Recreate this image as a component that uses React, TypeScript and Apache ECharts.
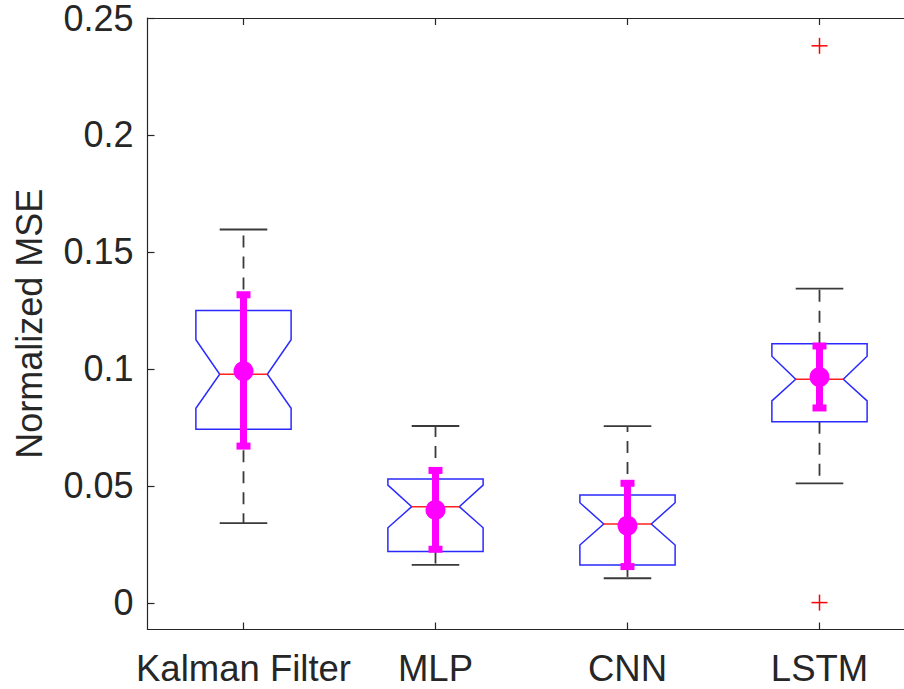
import React, { useEffect, useRef } from "react";
import * as echarts from "echarts";

const categories = ["Kalman Filter", "MLP", "CNN", "LSTM"];
const lowerWhisker = [0.0341, 0.0162, 0.0105, 0.0511];
const q1 = [0.0742, 0.0219, 0.0162, 0.0774];
const notchLow = [0.0832, 0.0321, 0.0247, 0.0863];
const median = [0.0977, 0.0411, 0.0337, 0.0956];
const notchHigh = [0.1125, 0.0503, 0.0428, 0.1054];
const q3 = [0.125, 0.0529, 0.0461, 0.1108];
const upperWhisker = [0.1596, 0.0756, 0.0755, 0.1343];
const means = [0.099, 0.0397, 0.033, 0.0965];
const errLow = [0.067, 0.0229, 0.0155, 0.0833];
const errHigh = [0.1317, 0.0566, 0.0511, 0.1098];
const outlierCategory = [3, 3];
const outlierValue = [0.2381, 0.0001];
const yTicks = [0, 0.05, 0.1, 0.15, 0.2, 0.25];
const yLabels = ["0", "0.05", "0.1", "0.15", "0.2", "0.25"];

const TEXT = "#262626";
const FONT = "'Liberation Sans', Arial, Helvetica, sans-serif";

export default function App() {
  const ref = useRef<HTMLDivElement>(null);
  useEffect(() => {
    if (!ref.current) return;
    const chart = echarts.init(ref.current, null, { renderer: "svg" });

    const boxData = categories.map((_, i) => [
      i,
      lowerWhisker[i],
      q1[i],
      notchLow[i],
      median[i],
      notchHigh[i],
      q3[i],
      upperWhisker[i],
    ]);
    const errData = categories.map((_, i) => [i, errLow[i], means[i], errHigh[i]]);
    const outData = outlierCategory.map((c, i) => [c, outlierValue[i]]);

    const option: any = {
      animation: false,
      backgroundColor: "#ffffff",
      grid: { left: 147.5, top: 16, right: 14.5, bottom: 59.5 },
      xAxis: [
        {
          type: "category",
          data: categories,
          position: "bottom",
          boundaryGap: true,
          axisLine: { show: true, onZero: false, lineStyle: { color: TEXT, width: 1.2 } },
          axisTick: { show: true, inside: true, alignWithLabel: true, length: 7, lineStyle: { color: TEXT, width: 1.2 } },
          axisLabel: { fontSize: 36.5, color: TEXT, fontFamily: FONT, margin: 20, interval: 0, hideOverlap: false },
          splitLine: { show: false },
        },
        {
          type: "category",
          data: categories,
          position: "top",
          boundaryGap: true,
          axisLine: { show: true, onZero: false, lineStyle: { color: TEXT, width: 1.2 } },
          axisTick: { show: true, inside: true, alignWithLabel: true, length: 7, lineStyle: { color: TEXT, width: 1.2 } },
          axisLabel: { show: false },
          splitLine: { show: false },
        },
      ],
      yAxis: [
        {
          type: "value",
          min: -0.0114,
          max: 0.25,
          position: "left",
          name: "Normalized MSE",
          nameLocation: "middle",
          nameGap: 100,
          nameTextStyle: { fontSize: 36, color: TEXT, fontFamily: FONT },
          axisLine: { show: true, onZero: false, lineStyle: { color: TEXT, width: 1.2 } },
          axisTick: { show: true, inside: true, length: 7, customValues: yTicks, lineStyle: { color: TEXT, width: 1.2 } },
          axisLabel: {
            fontSize: 36,
            lineHeight: 28,
            color: TEXT,
            fontFamily: FONT,
            margin: 14,
            customValues: yTicks,
            formatter: (v: number) => {
              const k = yTicks.findIndex((t) => Math.abs(t - v) < 1e-9);
              return k >= 0 ? yLabels[k] : "";
            },
          },
          splitLine: { show: false },
        },
        {
          type: "value",
          min: -0.0114,
          max: 0.25,
          position: "right",
          axisLine: { show: true, onZero: false, lineStyle: { color: TEXT, width: 1.2 } },
          axisTick: { show: true, inside: true, length: 7, customValues: yTicks, lineStyle: { color: TEXT, width: 1.2 } },
          axisLabel: { show: false },
          splitLine: { show: false },
        },
      ],
      series: [
        {
          type: "custom",
          name: "box",
          xAxisIndex: 0,
          yAxisIndex: 0,
          data: boxData,
          encode: { x: 0, y: [1, 2, 3, 4, 5, 6, 7] },
          renderItem: (params: any, api: any) => {
            const i = api.value(0);
            const bw = api.size([1, 0])[0];
            const half = bw * 0.248;
            const nh = half * 0.5;
            const pt = (v: number) => api.coord([i, v]);
            const cx = pt(api.value(4))[0];
            const yLW = pt(api.value(1))[1];
            const yQ1 = pt(api.value(2))[1];
            const yNL = pt(api.value(3))[1];
            const yMed = pt(api.value(4))[1];
            const yNH = pt(api.value(5))[1];
            const yQ3 = pt(api.value(6))[1];
            const yUW = pt(api.value(7))[1];
            const whiskerStyle = { stroke: "#3a3a3a", lineWidth: 1.8, lineDash: [12, 9] };
            const capStyle = { stroke: "#3a3a3a", lineWidth: 1.8 };
            return {
              type: "group",
              children: [
                { type: "line", shape: { x1: cx, y1: yQ3, x2: cx, y2: yUW }, style: whiskerStyle },
                { type: "line", shape: { x1: cx, y1: yQ1, x2: cx, y2: yLW }, style: whiskerStyle },
                { type: "line", shape: { x1: cx - nh, y1: yUW, x2: cx + nh, y2: yUW }, style: capStyle },
                { type: "line", shape: { x1: cx - nh, y1: yLW, x2: cx + nh, y2: yLW }, style: capStyle },
                {
                  type: "polygon",
                  shape: {
                    points: [
                      [cx - half, yQ3],
                      [cx + half, yQ3],
                      [cx + half, yNH],
                      [cx + nh, yMed],
                      [cx + half, yNL],
                      [cx + half, yQ1],
                      [cx - half, yQ1],
                      [cx - half, yNL],
                      [cx - nh, yMed],
                      [cx - half, yNH],
                    ],
                  },
                  style: { fill: "none", stroke: "#2a2aff", lineWidth: 1.5 },
                },
                { type: "line", shape: { x1: cx - nh, y1: yMed, x2: cx + nh, y2: yMed }, style: { stroke: "#ff2020", lineWidth: 1.5 } },
              ],
            };
          },
          z: 2,
        },
        {
          type: "custom",
          name: "outliers",
          data: outData,
          encode: { x: 0, y: 1 },
          renderItem: (params: any, api: any) => {
            const p = api.coord([api.value(0), api.value(1)]);
            const s = 8;
            const st = { stroke: "#ff0000", lineWidth: 1.5 };
            return {
              type: "group",
              children: [
                { type: "line", shape: { x1: p[0] - s, y1: p[1], x2: p[0] + s, y2: p[1] }, style: st },
                { type: "line", shape: { x1: p[0], y1: p[1] - s, x2: p[0], y2: p[1] + s }, style: st },
              ],
            };
          },
          z: 3,
        },
        {
          type: "custom",
          name: "mean",
          data: errData,
          encode: { x: 0, y: [1, 2, 3] },
          renderItem: (params: any, api: any) => {
            const i = api.value(0);
            const lo = api.coord([i, api.value(1)]);
            const mid = api.coord([i, api.value(2)]);
            const hi = api.coord([i, api.value(3)]);
            const cx = mid[0];
            const col = "#ff00ff";
            return {
              type: "group",
              children: [
                { type: "line", shape: { x1: cx, y1: lo[1], x2: cx, y2: hi[1] }, style: { stroke: col, lineWidth: 7 } },
                { type: "rect", shape: { x: cx - 7, y: hi[1] - 3.5, width: 14, height: 7 }, style: { fill: col } },
                { type: "rect", shape: { x: cx - 7, y: lo[1] - 3.5, width: 14, height: 7 }, style: { fill: col } },
                { type: "circle", shape: { cx, cy: mid[1], r: 10 }, style: { fill: col } },
              ],
            };
          },
          z: 4,
        },
      ],
    };
    chart.setOption(option);
    return () => chart.dispose();
  }, []);

  return (
    <div
      style={{
        position: "fixed",
        left: 0,
        top: 0,
        width: 904,
        height: 689,
        overflow: "hidden",
        background: "#fff",
      }}
    >
      <div ref={ref} style={{ width: 930, height: 689 }} />
    </div>
  );
}
